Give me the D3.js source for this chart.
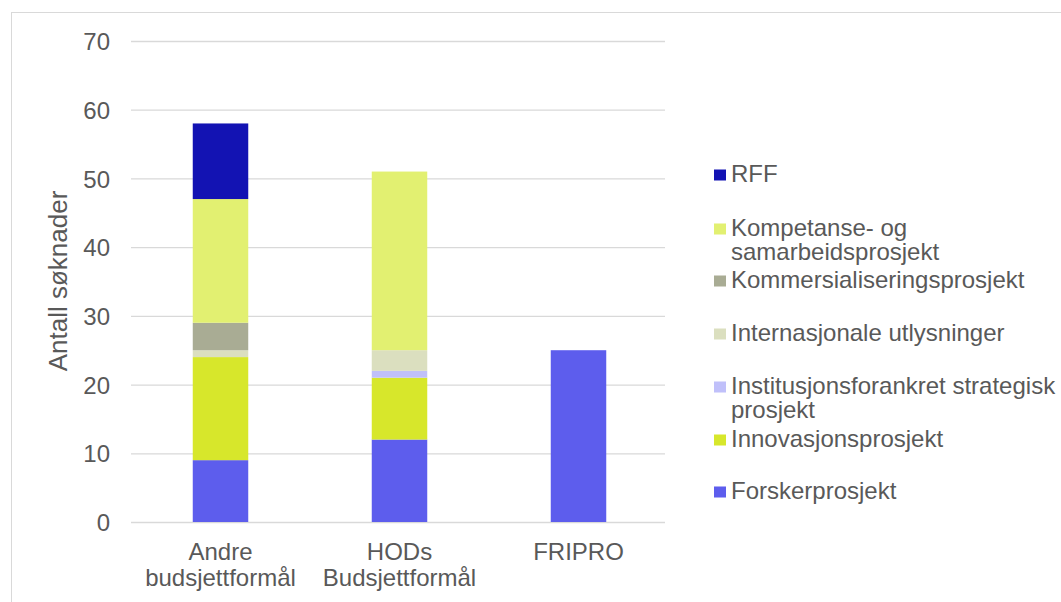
<!DOCTYPE html>
<html>
<head>
<meta charset="utf-8">
<script src="https://cdn.jsdelivr.net/npm/d3@7"></script>
<style>
  body { margin: 0; background: #fff; }
  svg { font-family: "Liberation Sans", Arial, sans-serif; }
</style>
</head>
<body>
<svg id="chart" width="1061" height="602"></svg>
<script>
// data
const categories = [['Andre', 'budsjettformål'], ['HODs', 'Budsjettformål'], ['FRIPRO']];
const seriesNames = [
  'Forskerprosjekt',
  'Innovasjonsprosjekt',
  'Institusjonsforankret strategisk prosjekt',
  'Internasjonale utlysninger',
  'Kommersialiseringsprosjekt',
  'Kompetanse- og samarbeidsprosjekt',
  'RFF'
];
const forsker = [9, 12, 25];
const innovasjon = [15, 9, 0];
const institusjon = [0, 1, 0];
const internasjonale = [1, 3, 0];
const kommersialisering = [4, 0, 0];
const kompetanse = [18, 26, 0];
const rff = [11, 0, 0];
const yTicks = [0, 10, 20, 30, 40, 50, 60, 70];
const colors = ['#5d5ded', '#d7e72b', '#c0c0fa', '#dbdfbf', '#a9ac94', '#e2f071', '#1313b3'];

// legend lines (top to bottom, as drawn)
const legendItems = [
  { i: 6, lines: ['RFF'] },
  { i: 5, lines: ['Kompetanse- og', 'samarbeidsprosjekt'] },
  { i: 4, lines: ['Kommersialiseringsprosjekt'] },
  { i: 3, lines: ['Internasjonale utlysninger'] },
  { i: 2, lines: ['Institusjonsforankret strategisk', 'prosjekt'] },
  { i: 1, lines: ['Innovasjonsprosjekt'] },
  { i: 0, lines: ['Forskerprosjekt'] }
];

const allSeries = [forsker, innovasjon, institusjon, internasjonale, kommersialisering, kompetanse, rff];
const table = categories.map((c, ci) => {
  const row = { key: ci };
  seriesNames.forEach((s, si) => row[s] = allSeries[si][ci]);
  return row;
});

const svg = d3.select('#chart');
const textColor = '#595959';

// outer frame
svg.append('rect')
  .attr('x', 11.5).attr('y', 12.5)
  .attr('width', 1070).attr('height', 620)
  .attr('fill', 'none').attr('stroke', '#d9d9d9');

const plot = { left: 131, right: 668, top: 41, bottom: 522 };

const x = d3.scaleBand()
  .domain(categories.map((c, i) => i))
  .range([plot.left, plot.right])
  .paddingInner(0.69).paddingOuter(0.345);

const y = d3.scaleLinear().domain([0, 70]).range([plot.bottom, plot.top]);

// gridlines
svg.append('g')
  .attr('transform', `translate(${plot.left},0)`)
  .call(d3.axisLeft(y).tickValues(yTicks).tickFormat('').tickSize(-(plot.right - plot.left - 3)))
  .call(g => g.select('.domain').remove())
  .call(g => g.selectAll('line').attr('stroke', '#d9d9d9').attr('stroke-width', 1.3));

// y tick labels
svg.append('g')
  .attr('transform', `translate(${plot.left},0)`)
  .call(d3.axisLeft(y).tickValues(yTicks).tickSize(0).tickPadding(21))
  .call(g => g.select('.domain').remove())
  .call(g => g.selectAll('text').attr('fill', textColor).style('font-size', '24px')
    .attr('dy', '0.36em')
    .style('font-family', '"Liberation Sans", Arial, sans-serif'));

// stacked bars
const stacked = d3.stack().keys(seriesNames)(table);
svg.append('g').selectAll('g')
  .data(stacked)
  .join('g')
  .attr('fill', (d, i) => colors[i])
  .selectAll('rect')
  .data(d => d.filter(p => p[1] > p[0]))
  .join('rect')
  .attr('x', d => x(d.data.key))
  .attr('width', x.bandwidth())
  .attr('y', d => y(d[1]))
  .attr('height', d => y(d[0]) - y(d[1]));

// x category labels
const xl = svg.append('g').selectAll('text')
  .data(categories)
  .join('text')
  .attr('text-anchor', 'middle')
  .attr('fill', textColor)
  .style('font-size', '24px')
  .attr('x', (d, i) => x(i) + x.bandwidth() / 2)
  .attr('y', 560);
xl.selectAll('tspan')
  .data(d => d)
  .join('tspan')
  .attr('x', function () { return this.parentNode.getAttribute('x'); })
  .attr('dy', (d, i) => i === 0 ? 0 : 26)
  .text(d => d);

// y axis title
svg.append('text')
  .attr('transform', `translate(67,281) rotate(-90)`)
  .attr('text-anchor', 'middle')
  .attr('fill', textColor)
  .style('font-size', '26px')
  .text('Antall søknader');

// legend
const legendY = [173, 227, 279, 332, 385, 438, 490];
const leg = svg.append('g').selectAll('g')
  .data(legendItems)
  .join('g')
  .attr('transform', (d, k) => `translate(714,${legendY[k]})`);
leg.append('rect')
  .attr('x', 0).attr('y', -3.5)
  .attr('width', 12).attr('height', 11)
  .attr('fill', d => colors[d.i]);
leg.append('text')
  .attr('fill', textColor)
  .style('font-size', '24px')
  .attr('y', 8.5)
  .selectAll('tspan')
  .data(d => d.lines)
  .join('tspan')
  .attr('x', 17)
  .attr('dy', (d, i) => i === 0 ? 0 : 24.5)
  .text(d => d);
</script>
</body>
</html>
